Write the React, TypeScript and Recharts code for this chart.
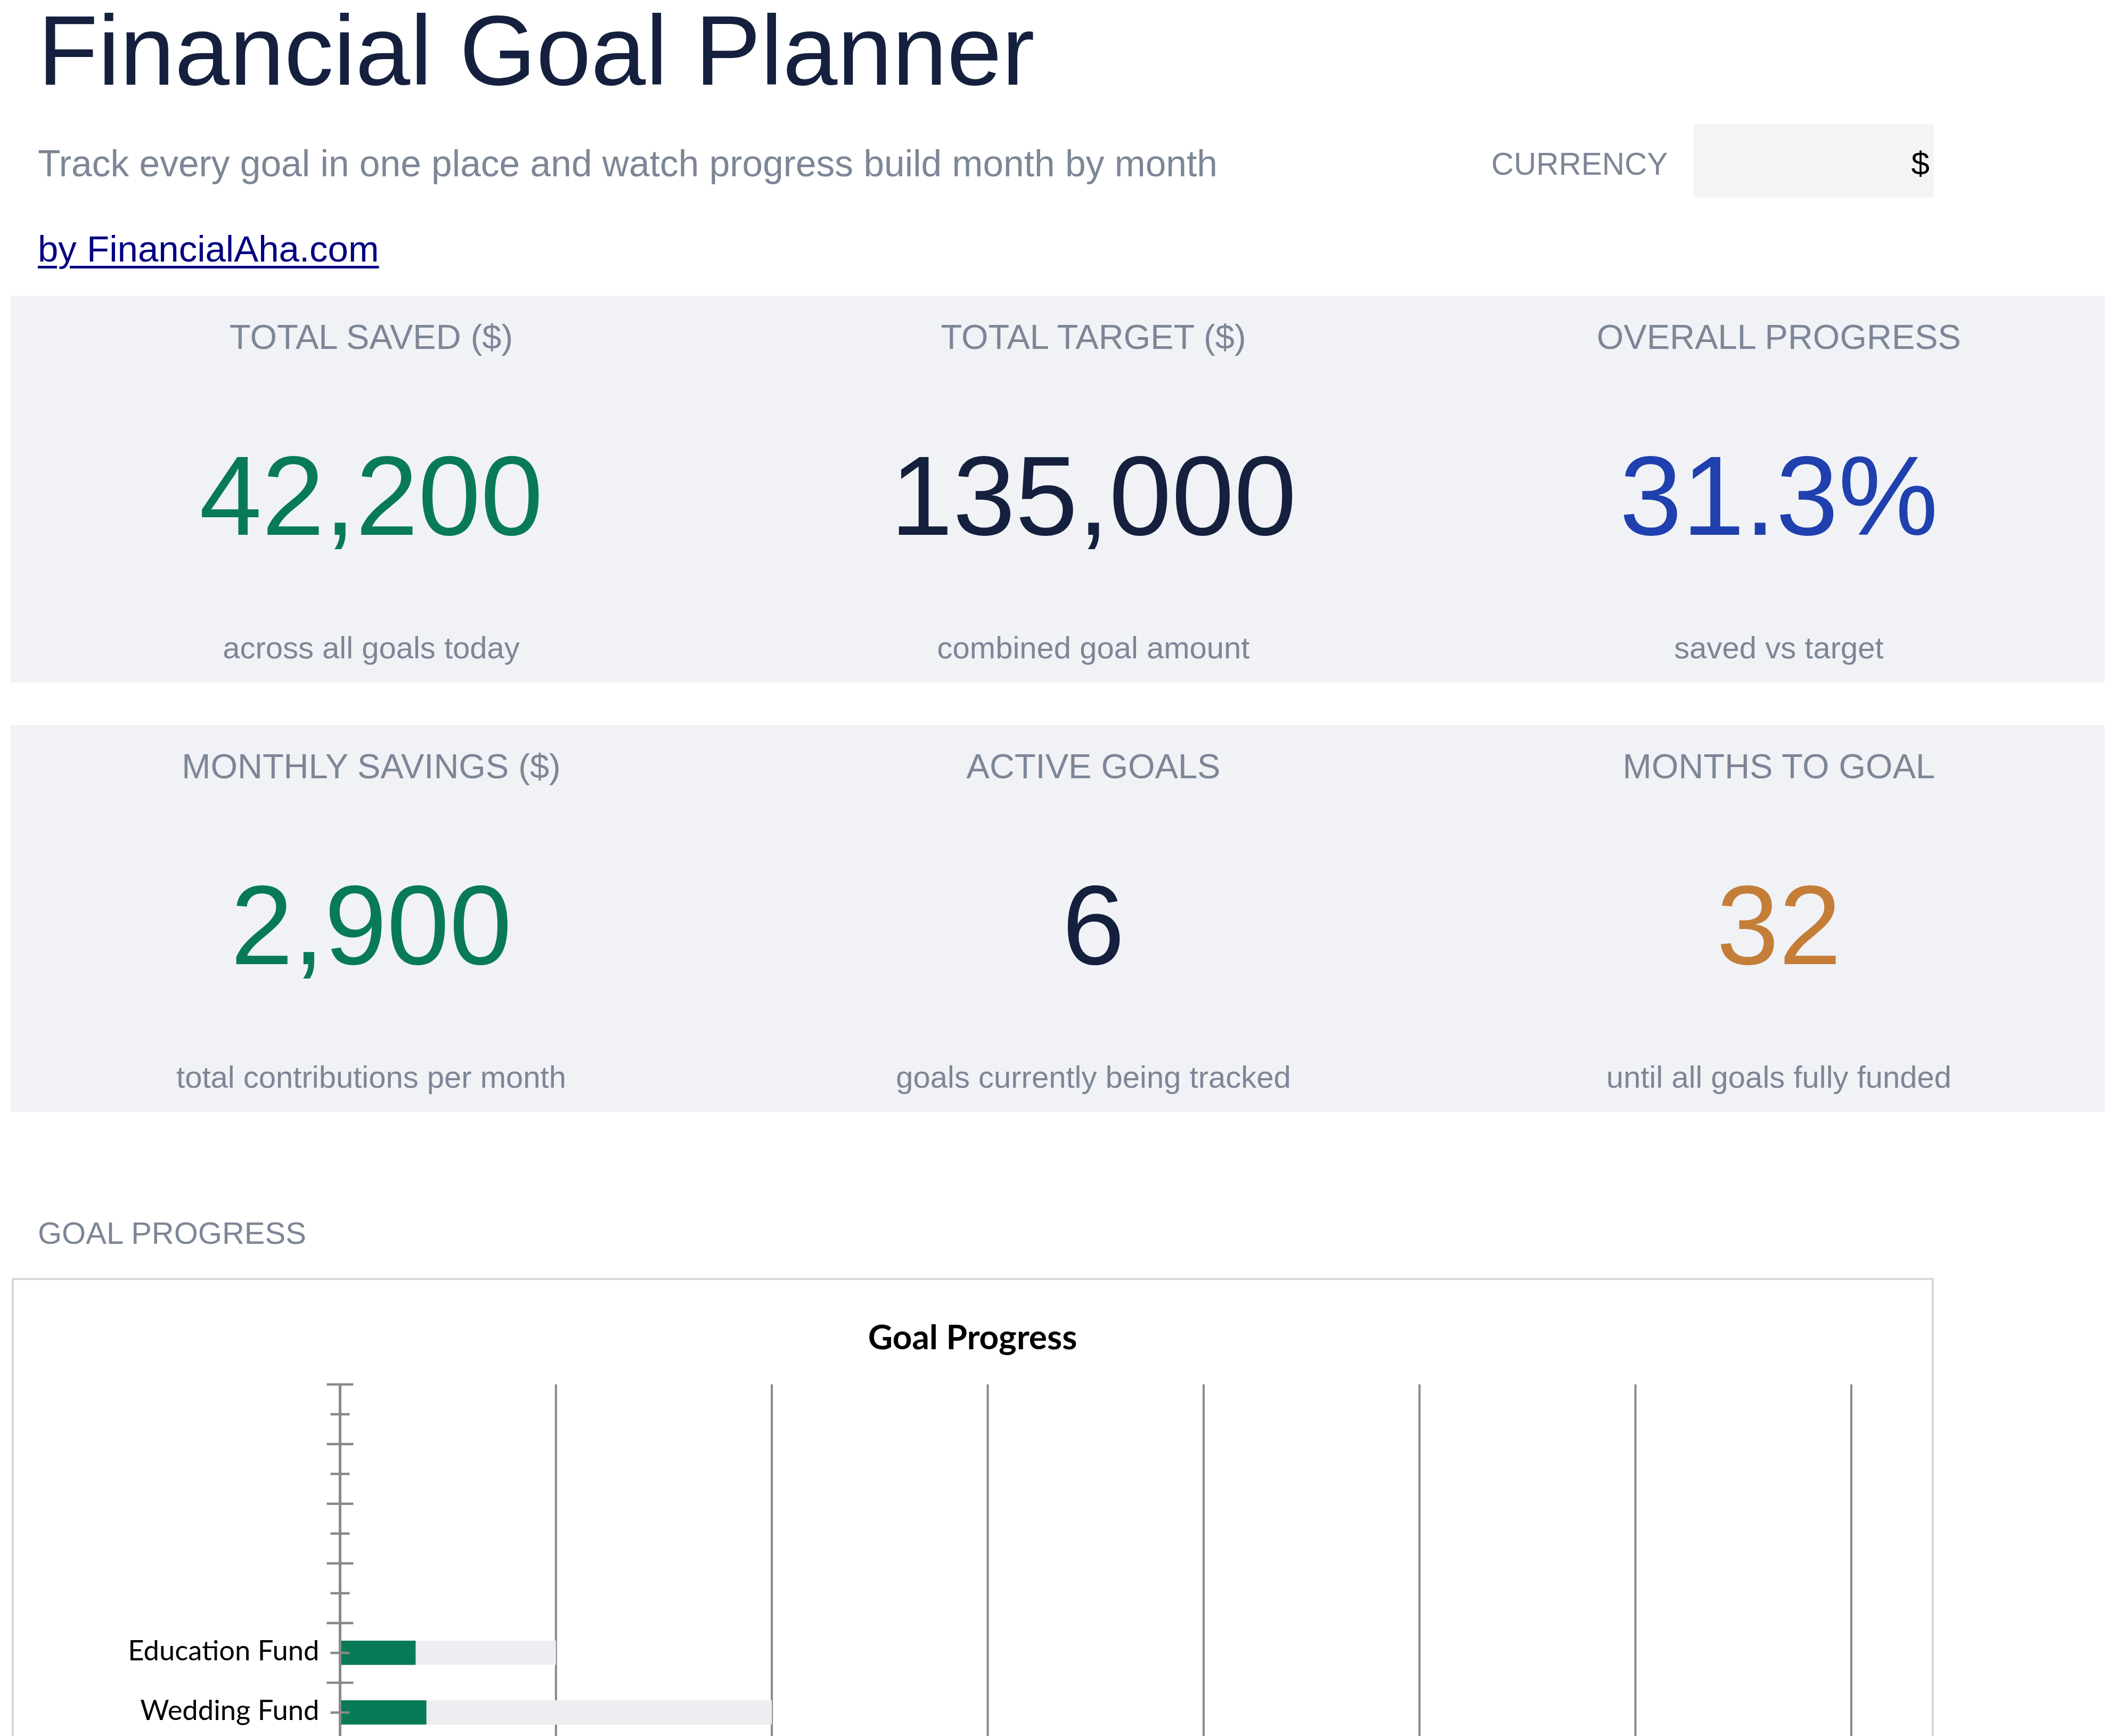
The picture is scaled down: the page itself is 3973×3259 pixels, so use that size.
import React from 'react';
import { Bar, BarChart, CartesianGrid, XAxis, YAxis } from 'recharts';

// rows top to bottom as they sit in the sheet range (blank rows are unused slots)
const goalNames = ['', '', '', '', 'Education Fund', 'Wedding Fund'];
const savedValues = [null, null, null, null, 3500, 4000];
const targetValues = [null, null, null, null, 10000, 20000];
const xTicks = [0, 10000, 20000, 30000, 40000, 50000, 60000, 70000];

const kpiTopRow = [
  { label: 'TOTAL SAVED ($)', value: '42,200', note: 'across all goals today', color: '#087a58' },
  { label: 'TOTAL TARGET ($)', value: '135,000', note: 'combined goal amount', color: '#14203d' },
  { label: 'OVERALL PROGRESS', value: '31.3%', note: 'saved vs target', color: '#1f40ae' },
];
const kpiBottomRow = [
  { label: 'MONTHLY SAVINGS ($)', value: '2,900', note: 'total contributions per month', color: '#087a58' },
  { label: 'ACTIVE GOALS', value: '6', note: 'goals currently being tracked', color: '#14203d' },
  { label: 'MONTHS TO GOAL', value: '32', note: 'until all goals fully funded', color: '#c47e37' },
];

const chartData = goalNames.map((name, i) => ({
  id: `row${i}`,
  name,
  saved: savedValues[i],
  target: targetValues[i],
}));

const SANS = '"Liberation Sans", Arial, sans-serif';
const CHART_FONT = 'Lato, "Open Sans", sans-serif';
const GRAY = '#7d8696';
const AXIS = '#898989';

const columnCenters = [697, 2053, 3340];

const PLOT_TOP = 199;
const BAND = 112;
const PLOT_HEIGHT = BAND * goalNames.length;
const X_MAX = 70000;

function Txt({
  children,
  x,
  baseline,
  size,
  color,
  align = 'left',
  family = SANS,
  style,
}: {
  children: React.ReactNode;
  x: number;
  baseline: number;
  size: number;
  color: string;
  align?: 'left' | 'center' | 'right';
  family?: string;
  style?: React.CSSProperties;
}) {
  const shift = align === 'center' ? 'translateX(-50%)' : align === 'right' ? 'translateX(-100%)' : 'none';
  return (
    <div
      style={{
        position: 'absolute',
        left: x,
        top: baseline - 0.8465 * size,
        fontSize: size,
        lineHeight: `${size}px`,
        fontFamily: family,
        color,
        whiteSpace: 'nowrap',
        transform: shift,
        ...style,
      }}
    >
      {children}
    </div>
  );
}

function KpiPanel({ top, items }: { top: number; items: typeof kpiTopRow }) {
  return (
    <>
      <div
        style={{
          position: 'absolute',
          left: 20,
          top,
          width: 3932,
          height: 726,
          background: '#f0f2f6',
        }}
      />
      {items.map((item, i) => (
        <React.Fragment key={item.label}>
          <Txt x={columnCenters[i]} baseline={top + 100} size={65} color={GRAY} align="center">
            {item.label}
          </Txt>
          <Txt x={columnCenters[i]} baseline={top + 450} size={211} color={item.color} align="center">
            {item.value}
          </Txt>
          <Txt x={columnCenters[i]} baseline={top + 681} size={58} color={GRAY} align="center">
            {item.note}
          </Txt>
        </React.Fragment>
      ))}
    </>
  );
}

function GoalTick(props: any) {
  const { x, y, payload } = props;
  const row = chartData.find((d) => d.id === payload.value);
  return (
    <g>
      <line x1={x - 18} x2={x + 18} y1={y} y2={y} stroke={AXIS} strokeWidth={4.5} />
      <line x1={x - 25} x2={x + 25} y1={y - BAND / 2} y2={y - BAND / 2} stroke={AXIS} strokeWidth={4.5} />
      {row && row.name ? (
        <text
          x={x - 39}
          y={y + 14}
          textAnchor="end"
          fontFamily={CHART_FONT}
          fontSize={52.5}
          fill="#000000"
        >
          {row.name}
        </text>
      ) : null}
    </g>
  );
}

function gridX({ xAxis, offset }: any) {
  if (xAxis && typeof xAxis.scale === 'function') {
    return xTicks.map((t) => xAxis.scale(t));
  }
  return xTicks.map((t) => offset.left + (t / X_MAX) * offset.width);
}

export default function App() {
  return (
    <div
      style={{
        position: 'fixed',
        left: 0,
        top: 0,
        width: 3973,
        height: 3259,
        overflow: 'hidden',
        background: '#ffffff',
      }}
    >
      <Txt x={71} baseline={160} size={185} color="#14203d">
        Financial Goal Planner
      </Txt>
      <Txt x={71} baseline={332} size={69.5} color={GRAY}>
        Track every goal in one place and watch progress build month by month
      </Txt>
      <Txt x={2800} baseline={329} size={58.5} color={GRAY}>
        CURRENCY
      </Txt>
      <div
        style={{
          position: 'absolute',
          left: 3180,
          top: 232,
          width: 451,
          height: 139,
          background: '#f3f4f6',
        }}
      />
      <Txt x={3623} baseline={328} size={62} color="#000000" align="right">
        $
      </Txt>
      <Txt
        x={71}
        baseline={491}
        size={69}
        color="#000080"
        style={{ textDecoration: 'underline', textDecorationThickness: 5, textUnderlineOffset: 8 }}
      >
        by FinancialAha.com
      </Txt>

      <KpiPanel top={555} items={kpiTopRow} />
      <KpiPanel top={1361} items={kpiBottomRow} />

      <Txt x={71} baseline={2335} size={58} color={GRAY}>
        GOAL PROGRESS
      </Txt>

      <div
        style={{
          position: 'absolute',
          left: 22,
          top: 2399,
          width: 3609,
          height: 1200,
          border: '4px solid #d9d9d9',
          boxSizing: 'border-box',
          background: '#ffffff',
        }}
      />
      <div style={{ position: 'absolute', left: 23, top: 2400 }}>
        <Txt
          x={1803}
          baseline={131}
          size={64}
          color="#000000"
          align="center"
          family={CHART_FONT}
          style={{ fontWeight: 700 }}
        >
          Goal Progress
        </Txt>
        <BarChart
          width={3605}
          height={PLOT_TOP + PLOT_HEIGHT + 80}
          data={chartData}
          layout="vertical"
          margin={{ top: PLOT_TOP, right: 152, bottom: 0, left: 0 }}
          barGap={-45.5}
          barCategoryGap={0}
        >
          <CartesianGrid
            horizontal={false}
            vertical
            stroke={AXIS}
            strokeWidth={4}
            verticalCoordinatesGenerator={gridX}
          />
          <XAxis
            type="number"
            domain={[0, X_MAX]}
            ticks={xTicks}
            interval={0}
            height={80}
            axisLine={false}
            tickLine={false}
            tick={false}
          />
          <YAxis
            type="category"
            dataKey="id"
            width={615.5}
            axisLine={{ stroke: AXIS, strokeWidth: 5 }}
            tickLine={false}
            tickSize={0}
            tickMargin={0}
            interval={0}
            tick={<GoalTick />}
          />
          <Bar dataKey="target" fill="#eceef1" barSize={45.5} isAnimationActive={false} />
          <Bar dataKey="saved" fill="#087a58" barSize={45.5} isAnimationActive={false} />
        </BarChart>
      </div>
    </div>
  );
}
